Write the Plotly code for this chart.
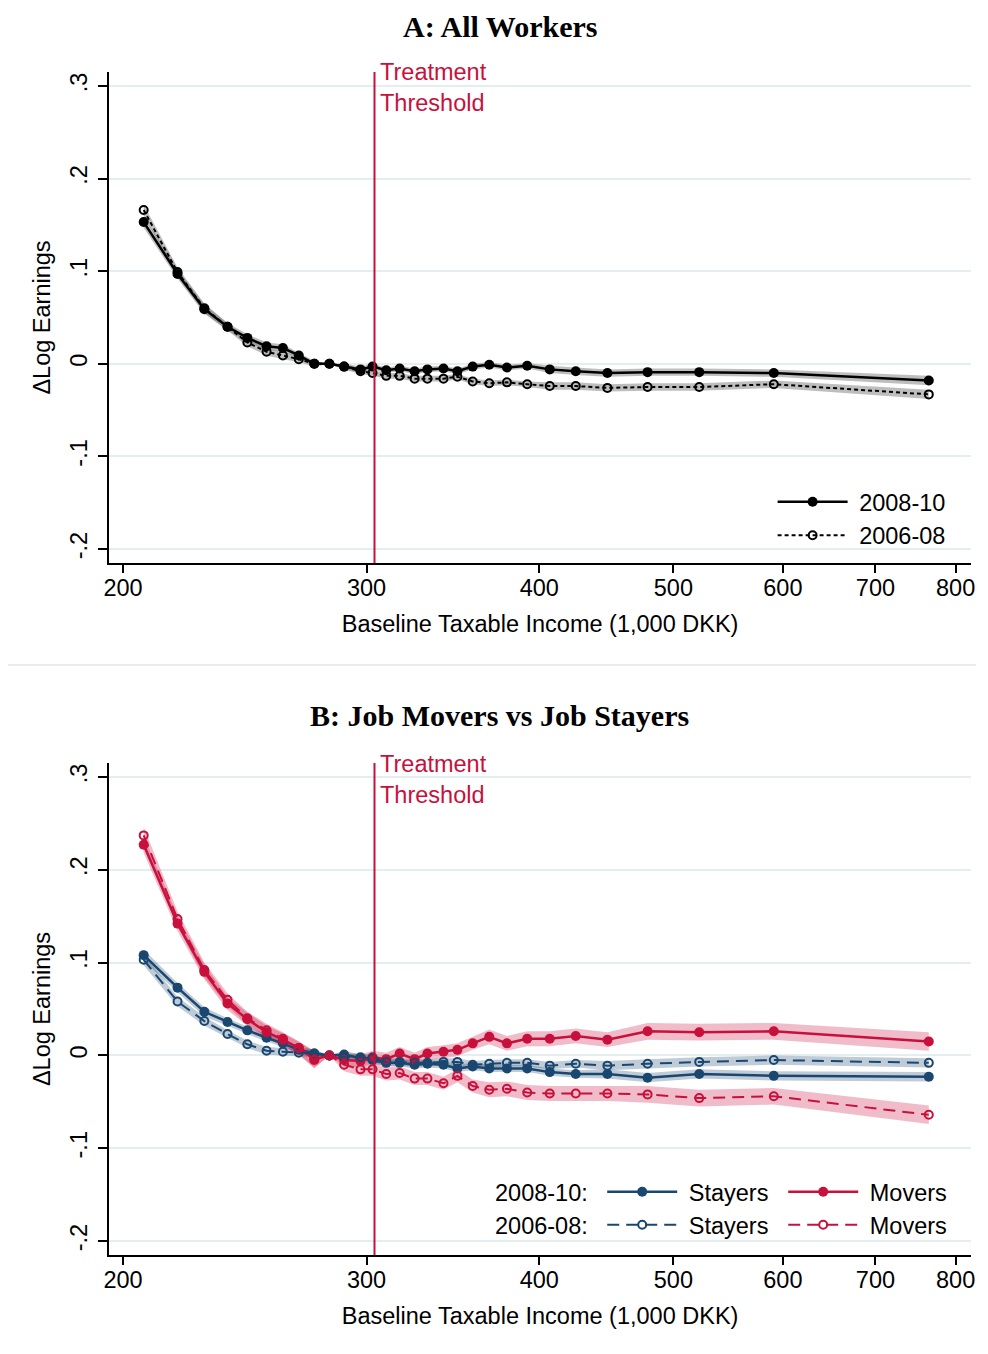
import numpy as np
import plotly.graph_objects as go

# baseline taxable income bins (1,000 DKK)
income = [207, 219, 229, 238, 246, 254, 261, 268, 275, 282, 289, 297, 303, 310, 317,
          325, 332, 341, 349, 358, 368, 379, 392, 407, 425, 448, 479, 522, 591, 765]
threshold = 304

# Panel A: all workers
all_0810 = [0.153, 0.097, 0.059, 0.040, 0.028, 0.019, 0.017, 0.009, 0.000, 0.000,
            -0.003, -0.006, -0.003, -0.007, -0.005, -0.008, -0.006, -0.005, -0.008, -0.003,
            -0.001, -0.004, -0.002, -0.006, -0.008, -0.010, -0.009, -0.009, -0.010, -0.018]
all_0608 = [0.166, 0.099, 0.060, 0.040, 0.023, 0.013, 0.009, 0.005, 0.000, 0.000,
            -0.003, -0.008, -0.010, -0.013, -0.013, -0.016, -0.016, -0.016, -0.014, -0.019,
            -0.021, -0.020, -0.022, -0.024, -0.024, -0.026, -0.025, -0.025, -0.022, -0.033]
ci_all_0810 = [0.006, 0.005, 0.005, 0.004, 0.004, 0.004, 0.004, 0.003, 0.003, 0.000,
               0.003, 0.003, 0.003, 0.003, 0.003, 0.003, 0.003, 0.003, 0.003, 0.003,
               0.003, 0.003, 0.003, 0.004, 0.004, 0.004, 0.004, 0.004, 0.004, 0.005]
ci_all_0608 = [0.006, 0.005, 0.005, 0.004, 0.004, 0.004, 0.004, 0.003, 0.003, 0.000,
               0.003, 0.003, 0.003, 0.003, 0.003, 0.003, 0.003, 0.003, 0.003, 0.003,
               0.003, 0.003, 0.003, 0.004, 0.004, 0.004, 0.004, 0.004, 0.004, 0.005]

# Panel B: job movers vs job stayers
mov_0810 = [0.227, 0.142, 0.090, 0.056, 0.039, 0.025, 0.017, 0.008, -0.004, 0.000,
            -0.005, -0.006, -0.002, -0.004, 0.002, -0.004, 0.002, 0.004, 0.006, 0.013,
            0.020, 0.013, 0.018, 0.018, 0.021, 0.017, 0.026, 0.025, 0.026, 0.015]
mov_0608 = [0.237, 0.147, 0.092, 0.060, 0.040, 0.027, 0.018, 0.008, -0.005, 0.000,
            -0.010, -0.015, -0.015, -0.020, -0.019, -0.025, -0.025, -0.030, -0.022, -0.033,
            -0.037, -0.036, -0.040, -0.041, -0.041, -0.041, -0.042, -0.046, -0.044, -0.064]
stay_0810 = [0.108, 0.073, 0.047, 0.036, 0.027, 0.019, 0.013, 0.006, 0.002, 0.000,
             0.001, -0.003, -0.005, -0.008, -0.008, -0.010, -0.009, -0.010, -0.014, -0.012,
             -0.014, -0.014, -0.014, -0.018, -0.020, -0.020, -0.024, -0.020, -0.022, -0.023]
stay_0608 = [0.103, 0.058, 0.037, 0.023, 0.012, 0.005, 0.004, 0.003, 0.002, 0.000,
             -0.002, -0.002, -0.003, -0.007, -0.007, -0.008, -0.008, -0.007, -0.007, -0.010,
             -0.009, -0.008, -0.008, -0.011, -0.009, -0.011, -0.009, -0.007, -0.005, -0.008]
ci_mov_0810 = [0.009, 0.008, 0.008, 0.007, 0.007, 0.007, 0.007, 0.007, 0.009, 0.000,
               0.007, 0.007, 0.007, 0.007, 0.007, 0.007, 0.007, 0.007, 0.007, 0.007,
               0.008, 0.008, 0.008, 0.008, 0.008, 0.008, 0.009, 0.009, 0.009, 0.010]
ci_mov_0608 = [0.009, 0.008, 0.008, 0.007, 0.007, 0.007, 0.007, 0.007, 0.009, 0.000,
               0.007, 0.007, 0.007, 0.007, 0.007, 0.007, 0.007, 0.007, 0.007, 0.007,
               0.008, 0.008, 0.008, 0.008, 0.008, 0.008, 0.009, 0.009, 0.009, 0.010]
ci_stay_0810 = [0.006, 0.005, 0.005, 0.004, 0.004, 0.004, 0.004, 0.004, 0.004, 0.000,
                0.004, 0.004, 0.004, 0.004, 0.004, 0.004, 0.004, 0.004, 0.004, 0.004,
                0.004, 0.004, 0.004, 0.004, 0.004, 0.005, 0.005, 0.005, 0.005, 0.005]
ci_stay_0608 = [0.006, 0.005, 0.005, 0.004, 0.004, 0.004, 0.004, 0.004, 0.004, 0.000,
                0.004, 0.004, 0.004, 0.004, 0.004, 0.004, 0.004, 0.004, 0.004, 0.004,
                0.004, 0.004, 0.004, 0.004, 0.004, 0.005, 0.005, 0.005, 0.005, 0.005]

ytick_vals = [-0.2, -0.1, 0, 0.1, 0.2, 0.3]
ytick_text = ['-.2', '-.1', '0', '.1', '.2', '.3']
xtick_vals = [200, 300, 400, 500, 600, 700, 800]

RED = '#c8103c'
BLUE = '#1a476f'
FONT = 'Liberation Sans, Arial, sans-serif'
FS = 23.5

# page body adds an 8px margin; keep the figure inside the window
W, H, OFF = 972, 1338, 8
# the screenshot comes out slightly narrower than the layout, undo that
SX, X0 = 0.9884, 6.28


def px(x):
    return ((x - X0) / SX - OFF) / W


def py(y):
    return 1 - (y - OFF) / H


fig = go.Figure()


def add_band(x, y, ci, color, xa, ya):
    upper = [a + b for a, b in zip(y, ci)]
    lower = [a - b for a, b in zip(y, ci)]
    fig.add_trace(go.Scatter(x=list(x) + list(x)[::-1], y=upper + lower[::-1],
                             fill='toself', fillcolor=color, mode='none',
                             showlegend=False, hoverinfo='skip', xaxis=xa, yaxis=ya))


def add_line(x, y, color, dash, solid, name, legend, xa, ya, width=2.5):
    fig.add_trace(go.Scatter(
        x=x, y=y, name='\u00a0' + name, mode='lines+markers', legend=legend,
        line=dict(color=color, width=width, dash=dash),
        marker=dict(symbol='circle' if solid else 'circle-open',
                    size=10 if solid else 8, color=color,
                    line=dict(color=color, width=0 if solid else 2)),
        xaxis=xa, yaxis=ya))


# Panel A
add_band(income, all_0608, ci_all_0608, 'rgba(110,110,110,0.45)', 'x', 'y')
add_band(income, all_0810, ci_all_0810, 'rgba(110,110,110,0.45)', 'x', 'y')
add_line(income, all_0810, 'black', 'solid', True, '2008-10', 'legend', 'x', 'y')
add_line(income, all_0608, 'black', '4px,3px', False, '2006-08', 'legend', 'x', 'y', width=2)

# Panel B
add_band(income, stay_0608, ci_stay_0608, 'rgba(26,71,111,0.28)', 'x2', 'y2')
add_band(income, stay_0810, ci_stay_0810, 'rgba(26,71,111,0.28)', 'x2', 'y2')
add_band(income, mov_0608, ci_mov_0608, 'rgba(200,16,60,0.28)', 'x2', 'y2')
add_band(income, mov_0810, ci_mov_0810, 'rgba(200,16,60,0.28)', 'x2', 'y2')
add_line(income, stay_0810, BLUE, 'solid', True, 'Stayers', 'legend2', 'x2', 'y2')
add_line(income, mov_0810, RED, 'solid', True, 'Movers', 'legend2', 'x2', 'y2')
add_line(income, stay_0608, BLUE, '12px,7px', False, 'Stayers', 'legend3', 'x2', 'y2', width=2)
add_line(income, mov_0608, RED, '12px,7px', False, 'Movers', 'legend3', 'x2', 'y2', width=2)

# treatment threshold lines
for xa, ya in [('x', 'y'), ('x2', 'y2')]:
    fig.add_trace(go.Scatter(x=[threshold, threshold], y=[-0.215, 0.315], mode='lines',
                             line=dict(color=RED, width=2), showlegend=False,
                             hoverinfo='skip', xaxis=xa, yaxis=ya))

xrange = [np.log10(195.4), np.log10(820.8)]
yrange = [-0.215, 0.315]

xaxis_style = dict(type='log', range=xrange, tickvals=xtick_vals, ticks='outside',
                   ticklen=8, tickwidth=1.5, tickcolor='black', showline=True,
                   linecolor='black', linewidth=1.5, showgrid=False, zeroline=False,
                   tickfont=dict(size=FS, color='black'), ticklabelstandoff=-5,
                   title=dict(text='Baseline Taxable Income (1,000 DKK)',
                              font=dict(size=FS, color='black'), standoff=16))
yaxis_style = dict(range=yrange, tickvals=ytick_vals, ticktext=ytick_text, tickangle=-90,
                   ticks='outside', ticklen=9, tickwidth=1.5, tickcolor='black',
                   showline=True, linecolor='black', linewidth=1.5, showgrid=True,
                   gridcolor='#e4edf0', gridwidth=1.5, zeroline=False,
                   tickfont=dict(size=FS, color='black'), ticklabelstandoff=2,
                   title=dict(text='ΔLog Earnings', font=dict(size=FS, color='black'),
                              standoff=9))

legend_common = dict(bgcolor='rgba(0,0,0,0)', font=dict(size=FS, color='black', family=FONT),
                     itemwidth=70, tracegroupgap=0, itemclick=False)

fig.update_layout(
    width=W, height=H,
    margin=dict(l=0, r=0, t=0, b=0),
    paper_bgcolor='white', plot_bgcolor='white',
    font=dict(family=FONT, color='black'),
    xaxis=dict(domain=[px(110), px(970)], anchor='y', **xaxis_style),
    yaxis=dict(domain=[py(563), py(72)], anchor='x', **yaxis_style),
    xaxis2=dict(domain=[px(110), px(970)], anchor='y2', **xaxis_style),
    yaxis2=dict(domain=[py(1255), py(763)], anchor='x2', **yaxis_style),
    legend=dict(x=px(772), y=py(480), xanchor='left', yanchor='top', orientation='v',
                **legend_common),
    legend2=dict(x=px(602), y=py(1170), xanchor='left', yanchor='top', orientation='h',
                 entrywidth=96, **legend_common),
    legend3=dict(x=px(602), y=py(1203), xanchor='left', yanchor='top', orientation='h',
                 entrywidth=96, **legend_common),
    shapes=[dict(type='line', xref='paper', yref='paper', x0=px(8), x1=1,
                 y0=py(665), y1=py(665),
                 line=dict(color='#e6e6e6', width=1.5))],
    showlegend=True,
)

annotations = [
    dict(text='<b>A: All Workers</b>', x=px(500), y=1, yanchor='top'),
    dict(text='<b>B: Job Movers vs Job Stayers</b>', x=px(500), y=py(715), yanchor='middle'),
]
for a in annotations:
    a.update(xref='paper', yref='paper', showarrow=False, xanchor='center',
             font=dict(family='Liberation Serif, Times New Roman, serif', size=30, color='black'))

for xr, yr in [('x', 'y'), ('x2', 'y2')]:
    annotations.append(dict(text='Treatment<br>Threshold', xref=xr, yref=yr + ' domain',
                            x=np.log10(threshold), y=1.0, xanchor='left', yanchor='middle',
                            align='left', xshift=4, yshift=-16, showarrow=False,
                            font=dict(size=FS, color=RED)))

annotations.append(dict(text='2008-10:', xref='paper', yref='paper', x=px(590), y=py(1193),
                        xanchor='right', yanchor='middle', showarrow=False,
                        font=dict(size=FS, color='black')))
annotations.append(dict(text='2006-08:', xref='paper', yref='paper', x=px(590), y=py(1226),
                        xanchor='right', yanchor='middle', showarrow=False,
                        font=dict(size=FS, color='black')))

fig.update_layout(annotations=annotations)

fig.write_html('out.html')
